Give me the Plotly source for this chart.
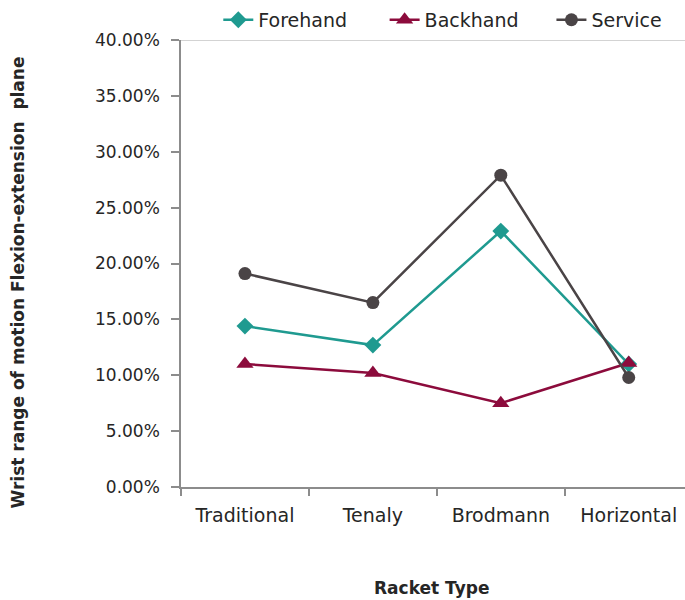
import plotly.graph_objects as go

# Racket types and wrist range of motion (flexion-extension plane) per stroke
rackets = ["Traditional", "Tenaly", "Brodmann", "Horizontal"]
forehand = [0.144, 0.127, 0.229, 0.110]
backhand = [0.110, 0.102, 0.075, 0.111]
service = [0.191, 0.165, 0.279, 0.098]

y_ticks = [0.0, 0.05, 0.10, 0.15, 0.20, 0.25, 0.30, 0.35, 0.40]

FONT = "'DejaVu Sans', Verdana, sans-serif"
TEXT = "#262626"
AXIS = "#8c8c8c"

# name, values, colour, marker symbol, marker size, legend id, legend x
series = [
    ("Forehand", forehand, "#1f9a90", "diamond", 13, "legend", 0.074),
    ("Backhand", backhand, "#8c0b3c", "triangle-up", 15, "legend2", 0.404),
    ("Service", service, "#4a4446", "circle", 13, "legend3", 0.735),
]

fig = go.Figure()
legends = {}
for name, vals, color, symbol, size, leg, lx in series:
    fig.add_trace(go.Scatter(
        x=rackets, y=vals, name=name, mode="lines+markers",
        line=dict(color=color, width=2.5),
        marker=dict(symbol=symbol, size=size, color=color),
        legend=leg,
    ))
    legends[leg] = dict(
        orientation="h", x=lx, xanchor="left", y=1.045, yanchor="middle",
        xref="paper", yref="paper",
        font=dict(size=19, color=TEXT),
        bgcolor="rgba(0,0,0,0)",
    )

fig.update_layout(
    width=685, height=600,
    margin=dict(l=181, r=0, t=40, b=113, autoexpand=False),
    paper_bgcolor="white", plot_bgcolor="white",
    font=dict(family=FONT, size=16, color=TEXT),
    showlegend=True,
    **legends,
    xaxis=dict(
        type="category", range=[-0.5, 3.44],
        showline=True, linecolor=AXIS, linewidth=1.5,
        ticks="outside", ticklen=7, tickcolor=AXIS, tickwidth=1.5,
        tickson="boundaries", showgrid=False, zeroline=False,
        ticklabelstandoff=10,
        tickfont=dict(size=19, color=TEXT),
    ),
    yaxis=dict(
        range=[0, 0.40], tickvals=y_ticks, tickformat=".2%",
        showline=True, linecolor=AXIS, linewidth=1.5,
        ticks="outside", ticklen=8, tickcolor=AXIS, tickwidth=1.5,
        showgrid=False, zeroline=False,
        ticklabelstandoff=8,
        tickfont=dict(size=17, color=TEXT),
    ),
    shapes=[dict(
        type="line", xref="paper", yref="y", x0=-0.016, x1=1, y0=0.40, y1=0.40,
        line=dict(color="#c4c4c4", width=1.5), layer="below",
    )],
    annotations=[
        dict(text="<b>Wrist range of motion Flexion-extension  plane</b>",
             xref="paper", yref="paper", x=-0.323, y=0.458, textangle=-90,
             showarrow=False, xanchor="center", yanchor="middle",
             font=dict(size=17, color=TEXT)),
        dict(text="<b>Racket Type</b>",
             xref="paper", yref="paper", x=0.497, y=-0.226,
             showarrow=False, xanchor="center", yanchor="middle",
             font=dict(size=17, color=TEXT)),
    ],
)

fig.write_html("out.html")
